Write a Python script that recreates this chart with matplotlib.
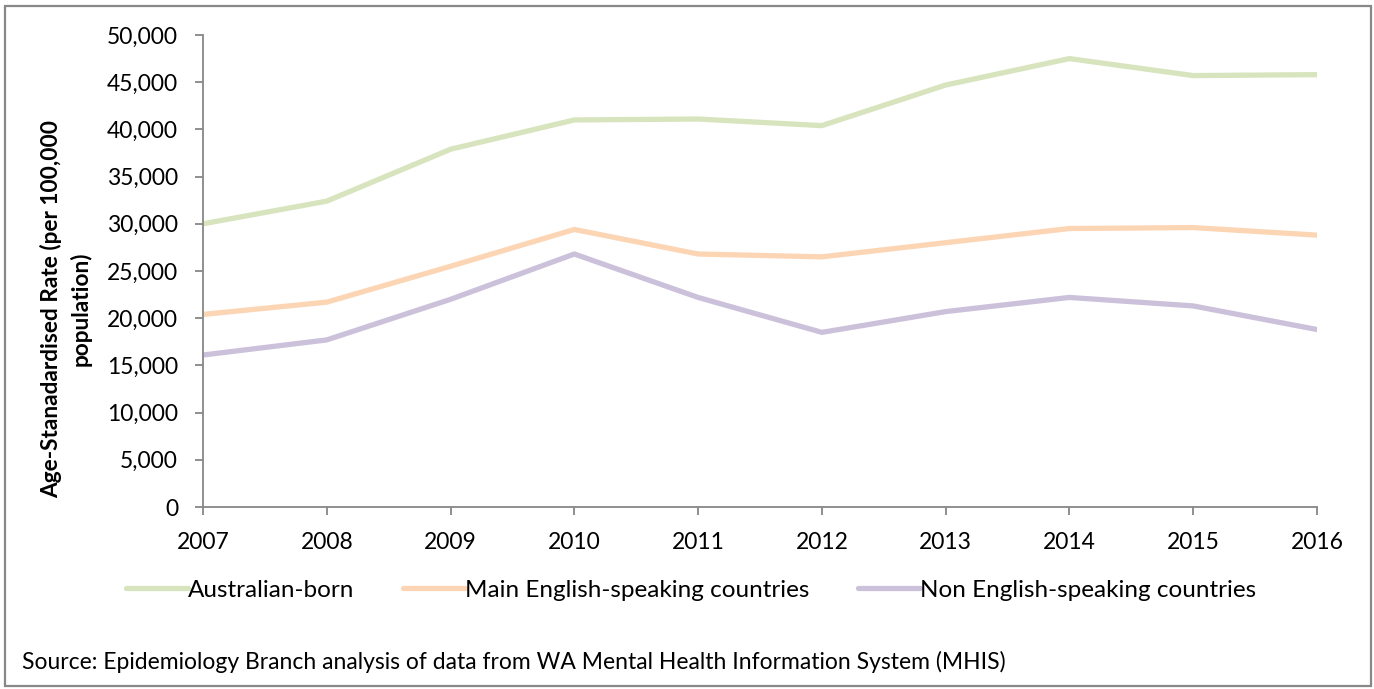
import matplotlib
matplotlib.use("Agg")
import matplotlib.pyplot as plt
from matplotlib.patches import Rectangle
from matplotlib.ticker import FuncFormatter

years = [2007, 2008, 2009, 2010, 2011, 2012, 2013, 2014, 2015, 2016]
australian_born = [30000, 32400, 37900, 41000, 41100, 40400, 44700, 47500, 45700, 45800]
main_english = [20400, 21700, 25500, 29400, 26800, 26500, 28000, 29500, 29600, 28800]
non_english = [16100, 17700, 22000, 26800, 22200, 18500, 20700, 22200, 21300, 18800]
series_names = ["Australian-born", "Main English-speaking countries", "Non English-speaking countries"]
colors = ["#D7E4BD", "#FCD5B5", "#CCC1DA"]

plt.rcParams['font.family'] = ['Lato', 'DejaVu Sans']
FS = 16.5

fig = plt.figure(figsize=(13.74, 6.89), dpi=100)
ax = fig.add_axes([203/1374, 1-507/689, (1317-203)/1374, (507-35)/689])

for vals, name, c in zip([australian_born, main_english, non_english], series_names, colors):
    ax.plot(years, vals, color=c, lw=3.8, label=name, solid_capstyle='round', solid_joinstyle='round')

ax.set_xlim(years[0], years[-1])
ax.set_ylim(0, 50000)
ax.set_xticks(years)
ax.set_yticks(range(0, 50001, 5000))
ax.yaxis.set_major_formatter(FuncFormatter(lambda v, p: f"{int(v):,}"))
for s in ['top', 'right']:
    ax.spines[s].set_visible(False)
for s in ['left', 'bottom']:
    ax.spines[s].set_color('#878787')
    ax.spines[s].set_linewidth(1.3)
ax.tick_params(axis='both', colors='#878787', labelcolor='black', labelsize=FS, width=1.3, length=6)
ax.tick_params(axis='y', pad=12)
ax.tick_params(axis='x', pad=12)

fig.text(66/1374, 1-309/689, "Age-Stanadardised Rate (per 100,000\npopulation)", fontsize=16.3,
         fontweight='bold', rotation=90, ha='center', va='center', multialignment='center', linespacing=1.4)

leg = fig.legend(loc='center', bbox_to_anchor=(0.503, 1-590/689), ncol=3, frameon=False,
                 fontsize=17.5, handlelength=2.55, handletextpad=0.0, columnspacing=2.0)

fig.text(22/1374, 1-662/689, "Source: Epidemiology Branch analysis of data from WA Mental Health Information System (MHIS)",
         fontsize=FS, ha='left', va='center')

fig.patches.append(Rectangle((5/1374, 3/689), 1366/1374, 680/689, transform=fig.transFigure,
                             fill=False, edgecolor='#888888', linewidth=1.6))

fig.savefig("out.png", dpi=100)
